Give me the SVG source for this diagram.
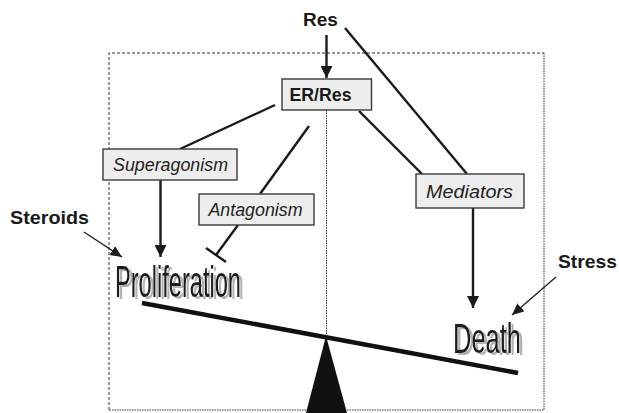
<svg xmlns="http://www.w3.org/2000/svg" width="619" height="413" viewBox="0 0 619 413">
<style>
.box{fill:#ededed;stroke:#3a3a3a;stroke-width:1.4}
.it{font-family:"Liberation Sans",Arial,sans-serif;font-style:italic;font-size:18px;fill:#222;text-anchor:middle}
.bd{font-family:"Liberation Sans",Arial,sans-serif;font-weight:bold;font-size:19px;fill:#1a1a1a}
.big{font-family:"Liberation Sans",Arial,sans-serif;fill:#1a1a1a;filter:url(#shadow)}
.ln{stroke:#1a1a1a;stroke-width:2.4;fill:none}
.thin{stroke:#1a1a1a;stroke-width:1.3;fill:none}
</style>
<defs>
<filter id="shadow" x="-10%" y="-20%" width="130%" height="150%">
<feFlood flood-color="#b3b3b3" result="c"/>
<feComposite in="c" in2="SourceAlpha" operator="in" result="s"/>
<feOffset in="s" dx="3" dy="2" result="o"/>
<feMerge><feMergeNode in="o"/><feMergeNode in="SourceGraphic"/></feMerge>
</filter>
<marker id="ah" viewBox="0 0 10 10" refX="10" refY="5" markerWidth="5" markerHeight="5" orient="auto" markerUnits="strokeWidth">
<path d="M0,0 L10,5 L0,10 z" fill="#1a1a1a"/>
</marker>
<marker id="ahs" viewBox="0 0 10 10" refX="10" refY="5" markerWidth="9" markerHeight="9" orient="auto" markerUnits="strokeWidth">
<path d="M0,0.5 L10,5 L0,9.5 z" fill="#1a1a1a"/>
</marker>
</defs>
<g id="frame">
<path d="M109,410 V53 H544" fill="none" stroke="#333" stroke-width="1" stroke-dasharray="3 2"/>
<path d="M544,53 V410 H109" fill="none" stroke="#333" stroke-width="1" stroke-dasharray="1.5 1"/>
<line x1="326.5" y1="110" x2="326.5" y2="337" stroke="#333" stroke-width="1" stroke-dasharray="1.5 1"/>
</g>
<g id="connectors">
<line class="ln" x1="326.5" y1="35" x2="326.5" y2="78" marker-end="url(#ah)"/>
<line class="ln" x1="275" y1="105" x2="180" y2="149"/>
<line class="ln" x1="309" y1="126" x2="260" y2="194"/>
<line class="ln" x1="359" y1="111" x2="422" y2="174"/>
<line class="ln" x1="345" y1="28" x2="467" y2="174"/>
<line class="ln" x1="160.5" y1="180" x2="160.5" y2="257" marker-end="url(#ah)"/>
<line class="ln" x1="473" y1="208" x2="473" y2="308" marker-end="url(#ah)"/>
<line class="ln" x1="238" y1="225" x2="216" y2="255"/>
<line class="ln" x1="206" y1="248" x2="226" y2="262"/>
<line class="thin" x1="84" y1="232" x2="122" y2="257" marker-end="url(#ahs)"/>
<line class="thin" x1="556" y1="277" x2="512" y2="315" marker-end="url(#ahs)"/>
</g>
<g id="res"><text class="bd" x="320.5" y="26" text-anchor="middle">Res</text></g>
<g id="er-res">
<rect class="box" x="282" y="79" width="89.5" height="31"/>
<text class="bd" x="320.5" y="101" text-anchor="middle" font-size="18" textLength="62" lengthAdjust="spacingAndGlyphs">ER/Res</text>
</g>
<g id="superagonism">
<rect class="box" x="103" y="149" width="134" height="31"/>
<text class="it" x="170.5" y="171" textLength="115" lengthAdjust="spacingAndGlyphs">Superagonism</text>
</g>
<g id="antagonism">
<rect class="box" x="199" y="194" width="115" height="31"/>
<text class="it" x="255.5" y="216" textLength="94" lengthAdjust="spacingAndGlyphs">Antagonism</text>
</g>
<g id="mediators">
<rect class="box" x="416" y="174" width="108" height="34"/>
<text class="it" x="469.5" y="198" font-size="19.5" textLength="87" lengthAdjust="spacingAndGlyphs">Mediators</text>
</g>
<g id="steroids"><text class="bd" x="10" y="224" textLength="79" lengthAdjust="spacingAndGlyphs">Steroids</text></g>
<g id="stress"><text class="bd" x="558" y="268" textLength="59" lengthAdjust="spacingAndGlyphs">Stress</text></g>
<g id="proliferation">
<text class="big" x="115" y="297" font-size="44" textLength="126" lengthAdjust="spacingAndGlyphs">Proliferation</text>
</g>
<g id="death">
<text class="big" x="453" y="353" font-size="42" textLength="68" lengthAdjust="spacingAndGlyphs">Death</text>
</g>
<g id="balance">
<line x1="142" y1="303" x2="518" y2="373" stroke="#111" stroke-width="4.5"/>
<polygon points="326,336 306,413 347,413" fill="#111"/>
</g>
</svg>
